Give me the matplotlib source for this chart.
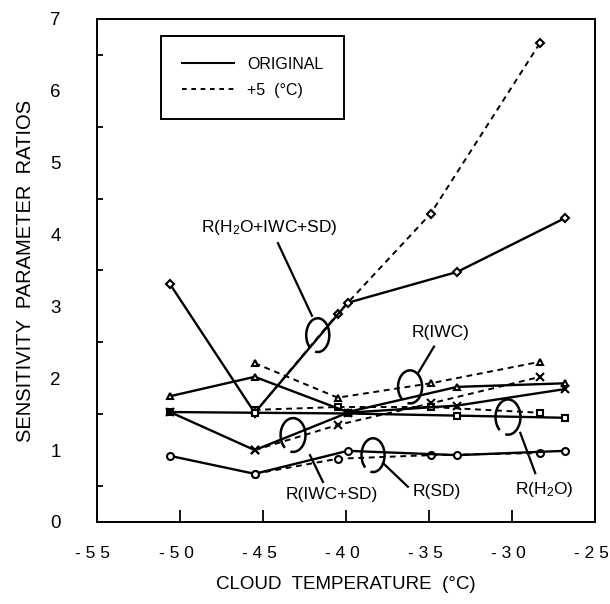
import numpy as np
import matplotlib.pyplot as plt
from matplotlib.patches import Arc
from matplotlib.lines import Line2D
from matplotlib.transforms import ScaledTranslation

plt.rcParams['font.family'] = ['Liberation Sans', 'DejaVu Sans']
plt.rcParams['mathtext.default'] = 'regular'

# cloud temperatures (deg C) for the two runs
temp_orig = [-50.6, -45.5, -39.9, -33.3, -26.8]
temp_plus5 = [-45.5, -40.5, -34.9, -28.3]

# ORIGINAL run
r_all = [3.31, 1.52, 3.05, 3.48, 4.23]       # R(H2O+IWC+SD)
r_iwc = [1.75, 2.02, 1.53, 1.88, 1.93]       # R(IWC)
r_h2o = [1.53, 1.52, 1.51, 1.48, 1.45]       # R(H2O)
r_iwc_sd = [1.53, 1.00, 1.52, 1.62, 1.85]    # R(IWC+SD)
r_sd = [0.92, 0.67, 0.99, 0.93, 0.99]        # R(SD)

# +5 (C) run
r_all_p5 = [1.52, 2.90, 4.29, 6.67]
r_iwc_p5 = [2.21, 1.73, 1.93, 2.23]
r_h2o_p5 = [1.56, 1.60, 1.60, 1.52]
r_iwc_sd_p5 = [1.00, 1.35, 1.65, 2.02]
r_sd_p5 = [0.67, 0.88, 0.93, 0.96]

xticks = [-55, -50, -45, -40, -35, -30, -25]
xticklabels = ['- 5 5', '- 5 0', '- 4 5', '- 4 0', '- 3 5', '- 3 0', '- 2 5']

fig = plt.figure(figsize=(6.1, 6.04), dpi=100)
ax = fig.add_axes([0.159, 0.1358, 0.8164, 0.8328])

orig_series = [(r_all, 'D', 3.8), (r_iwc, '^', 5), (r_h2o, 's', 4.5),
               (r_iwc_sd, 'x', 6), (r_sd, 'o', 5)]
p5_series = [(r_all_p5, 'D', 3.8), (r_iwc_p5, '^', 5), (r_h2o_p5, 's', 4.5),
             (r_iwc_sd_p5, 'x', 6), (r_sd_p5, 'o', 5)]

for vals, m, ms in p5_series:
    ax.plot(temp_plus5, vals, color='k', lw=1.4, dashes=(3.0, 2.4), marker=m,
            ms=ms, mfc='white', mec='k', mew=1.5)
for vals, m, ms in orig_series:
    ax.plot(temp_orig, vals, color='k', lw=1.7, marker=m,
            ms=ms, mfc='white', mec='k', mew=1.5)

# labels with leader lines and open ellipses
notes = [
    ('R(H$_2$O+IWC+SD)', (-44.6, 4.10), (-44.1, 3.88), (-42.05, 2.87), (-41.7, 2.60), 1.39, 0.47),
    ('R(IWC)', (-34.3, 2.64), (-34.7, 2.44), (-35.66, 2.07), (-36.14, 1.88), 1.45, 0.46),
    ('R(IWC+SD)', (-40.84, 0.376), (-41.39, 0.557), (-42.17, 0.93), (-43.19, 1.21), 1.5, 0.47),
    ('R(SD)', (-34.52, 0.42), (-36.27, 0.49), (-37.77, 0.82), (-38.37, 0.93), 1.39, 0.47),
    ('R(H$_2$O)', (-28.07, 0.445), (-28.6, 0.68), (-29.5, 1.24), (-30.24, 1.46), 1.5, 0.49),
]
for txt, tpos, a, b, c, w, h in notes:
    ax.text(tpos[0], tpos[1], txt, ha='center', va='center', fontsize=12.5)
    ax.plot([a[0], b[0]], [a[1], b[1]], color='k', lw=1.6)
    ax.add_patch(Arc(c, w, h, theta1=-125, theta2=200, color='k', lw=1.8))

ax.set_xlim(-55, -25)
ax.set_ylim(0, 7)
ax.set_xticks(xticks)
ax.set_xticklabels(xticklabels)
ax.set_yticks(range(0, 8))
ax.set_yticks(np.arange(0.5, 7, 1.0), minor=True)
ax.tick_params(axis='x', direction='in', length=8.6, width=1.3, pad=17, labelsize=12.5)
ax.tick_params(axis='y', which='major', direction='in', length=0, pad=26, labelsize=13.5)
ax.tick_params(axis='y', which='minor', direction='in', length=4.5, width=1.3)
for s in ax.spines.values():
    s.set_linewidth(1.4)
shift = ScaledTranslation(-4 / 100, 0, fig.dpi_scale_trans)
for lab in ax.get_xticklabels():
    lab.set_transform(lab.get_transform() + shift)

ax.set_xlabel('CLOUD  TEMPERATURE  (°C)', fontsize=13.5, labelpad=11)
ax.set_ylabel('SENSITIVITY  PARAMETER  RATIOS', fontsize=14.5, labelpad=11)

handles = [Line2D([], [], color='k', lw=1.5),
           Line2D([], [], color='k', lw=1.4, dashes=(2.4, 2.4))]
leg = ax.legend(handles, ['ORIGINAL', '+5  (°C)'], loc='upper left',
                bbox_to_anchor=(0.1285, 0.966), borderaxespad=0, fontsize=11.5,
                fancybox=False, framealpha=1, edgecolor='k', handlelength=3.3,
                handletextpad=0.8, borderpad=1.3, labelspacing=0.7)
leg.get_frame().set_linewidth(1.4)

plt.savefig('out.png', dpi=100)
